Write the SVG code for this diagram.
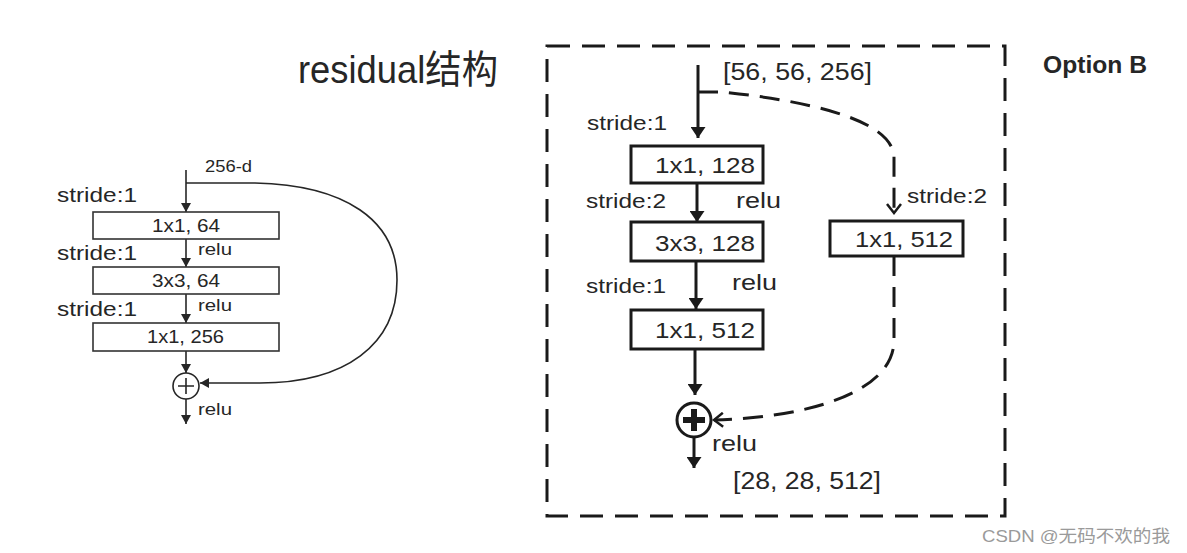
<svg xmlns="http://www.w3.org/2000/svg" width="1187" height="553" viewBox="0 0 1187 553">
<defs>
<style>
text{font-family:"Liberation Sans","Noto Sans CJK SC",sans-serif;fill:#262626}
.l{stroke:#262626;stroke-width:1.6;fill:none}
.r{stroke:#1a1a1a;stroke-width:3;fill:none}
.box{fill:#fff;stroke:#333;stroke-width:1.6}
.rbox{fill:#fff;stroke:#1a1a1a;stroke-width:3}
.dash{stroke:#1a1a1a;stroke-width:3;fill:none;stroke-dasharray:20 11}
</style>
<marker id="al" markerUnits="userSpaceOnUse" markerWidth="9" markerHeight="10" refX="9" refY="5" orient="auto"><path d="M0,0 L9,5 L0,10 z" fill="#262626"/></marker>
<marker id="ar" markerUnits="userSpaceOnUse" markerWidth="11" markerHeight="15" refX="11" refY="7.5" orient="auto"><path d="M0,0 L11,7.5 L0,15 z" fill="#1a1a1a"/></marker>
<marker id="ac" markerUnits="userSpaceOnUse" markerWidth="12" markerHeight="16" refX="10" refY="8" orient="auto"><path d="M1,1 L10,8 L1,15" fill="none" stroke="#1a1a1a" stroke-width="2.5"/></marker>
</defs>
<rect width="1187" height="553" fill="#fff"/>

<text x="298" y="83" font-size="39" textLength="200" lengthAdjust="spacingAndGlyphs">residual结构</text>

<!-- left diagram -->
<g id="left-labels">
<text x="205" y="172" font-size="17" textLength="47" lengthAdjust="spacingAndGlyphs">256-d</text>
<text x="57" y="202" font-size="20" textLength="80" lengthAdjust="spacingAndGlyphs">stride:1</text>
<text x="57" y="260" font-size="20" textLength="80" lengthAdjust="spacingAndGlyphs">stride:1</text>
<text x="57" y="316" font-size="20" textLength="80" lengthAdjust="spacingAndGlyphs">stride:1</text>
<text x="198" y="255" font-size="16" textLength="34" lengthAdjust="spacingAndGlyphs">relu</text>
<text x="198" y="311" font-size="16" textLength="34" lengthAdjust="spacingAndGlyphs">relu</text>
<text x="198" y="415" font-size="16" textLength="34" lengthAdjust="spacingAndGlyphs">relu</text>
</g>
<g id="left-connectors">
<line class="l" x1="186" y1="170" x2="186" y2="212" marker-end="url(#al)"/>
<line class="l" x1="186" y1="239" x2="186" y2="267" marker-end="url(#al)"/>
<line class="l" x1="186" y1="294" x2="186" y2="323" marker-end="url(#al)"/>
<line class="l" x1="186" y1="351" x2="186" y2="373" marker-end="url(#al)"/>
<line class="l" x1="186" y1="399" x2="186" y2="424" marker-end="url(#al)"/>
<path class="l" d="M186,183 L255,183 C345,185 397,220 397,280 C397,345 345,383 260,383 L200,383" marker-end="url(#al)"/>
</g>
<g id="l-box1"><rect class="box" x="93" y="212" width="186" height="27"/><text x="152" y="232" font-size="19" textLength="68" lengthAdjust="spacingAndGlyphs">1x1, 64</text></g>
<g id="l-box2"><rect class="box" x="93" y="267" width="186" height="27"/><text x="152" y="287" font-size="19" textLength="68" lengthAdjust="spacingAndGlyphs">3x3, 64</text></g>
<g id="l-box3"><rect class="box" x="93" y="323" width="186" height="28"/><text x="147" y="343" font-size="19" textLength="77" lengthAdjust="spacingAndGlyphs">1x1, 256</text></g>
<g id="l-add"><circle cx="186" cy="386" r="13" fill="#fff" stroke="#262626" stroke-width="1.6"/><path d="M178,386 H194 M186,378 V394" stroke="#262626" stroke-width="1.6"/></g>

<!-- right diagram -->
<rect x="547" y="46" width="458" height="470" fill="none" stroke="#1a1a1a" stroke-width="3" stroke-dasharray="23 12"/>
<text x="1043" y="73" font-size="24" font-weight="bold" textLength="104" lengthAdjust="spacingAndGlyphs">Option B</text>

<g id="right-labels">
<text x="723" y="80" font-size="23" textLength="149" lengthAdjust="spacingAndGlyphs">[56, 56, 256]</text>
<text x="587" y="130" font-size="20" textLength="80" lengthAdjust="spacingAndGlyphs">stride:1</text>
<text x="586" y="208" font-size="20" textLength="80" lengthAdjust="spacingAndGlyphs">stride:2</text>
<text x="736" y="208" font-size="22" textLength="45" lengthAdjust="spacingAndGlyphs">relu</text>
<text x="907" y="203" font-size="20" textLength="80" lengthAdjust="spacingAndGlyphs">stride:2</text>
<text x="586" y="293" font-size="20" textLength="80" lengthAdjust="spacingAndGlyphs">stride:1</text>
<text x="732" y="290" font-size="22" textLength="45" lengthAdjust="spacingAndGlyphs">relu</text>
<text x="712" y="451" font-size="22" textLength="45" lengthAdjust="spacingAndGlyphs">relu</text>
<text x="733" y="489" font-size="23" textLength="148" lengthAdjust="spacingAndGlyphs">[28, 28, 512]</text>
</g>
<g id="right-connectors">
<line class="r" x1="698" y1="65" x2="698" y2="138" marker-end="url(#ar)"/>
<line class="r" x1="697" y1="183" x2="697" y2="222" marker-end="url(#ar)"/>
<line class="r" x1="696" y1="261" x2="696" y2="309" marker-end="url(#ar)"/>
<line class="r" x1="695" y1="349" x2="695" y2="395" marker-end="url(#ar)"/>
<line class="r" x1="694" y1="437" x2="694" y2="468" marker-end="url(#ar)"/>
<path class="dash" d="M698,92 L722,92 C800,100 894,118 894,158 L894,213" marker-end="url(#ac)"/>
<path class="dash" d="M894,256 L894,340 C894,395 800,418 714,420" marker-end="url(#ac)"/>
</g>
<g id="r-box1"><rect class="rbox" x="631" y="146" width="132" height="37"/><text x="655" y="173" font-size="22" textLength="100" lengthAdjust="spacingAndGlyphs">1x1, 128</text></g>
<g id="r-box2"><rect class="rbox" x="631" y="222" width="132" height="39"/><text x="655" y="251" font-size="22" textLength="100" lengthAdjust="spacingAndGlyphs">3x3, 128</text></g>
<g id="r-box3"><rect class="rbox" x="631" y="310" width="132" height="39"/><text x="655" y="338" font-size="22" textLength="100" lengthAdjust="spacingAndGlyphs">1x1, 512</text></g>
<g id="r-box4"><rect class="rbox" x="830" y="221" width="133" height="35"/><text x="855" y="247" font-size="22" textLength="98" lengthAdjust="spacingAndGlyphs">1x1, 512</text></g>
<g id="r-add"><circle cx="694" cy="420" r="17" fill="#fff" stroke="#1a1a1a" stroke-width="3"/><path d="M683,420 H705 M694,409 V431" stroke="#1a1a1a" stroke-width="6"/></g>

<text x="982" y="542" font-size="17" style="fill:#9a9a9a" textLength="188" lengthAdjust="spacingAndGlyphs">CSDN @无码不欢的我</text>
</svg>
